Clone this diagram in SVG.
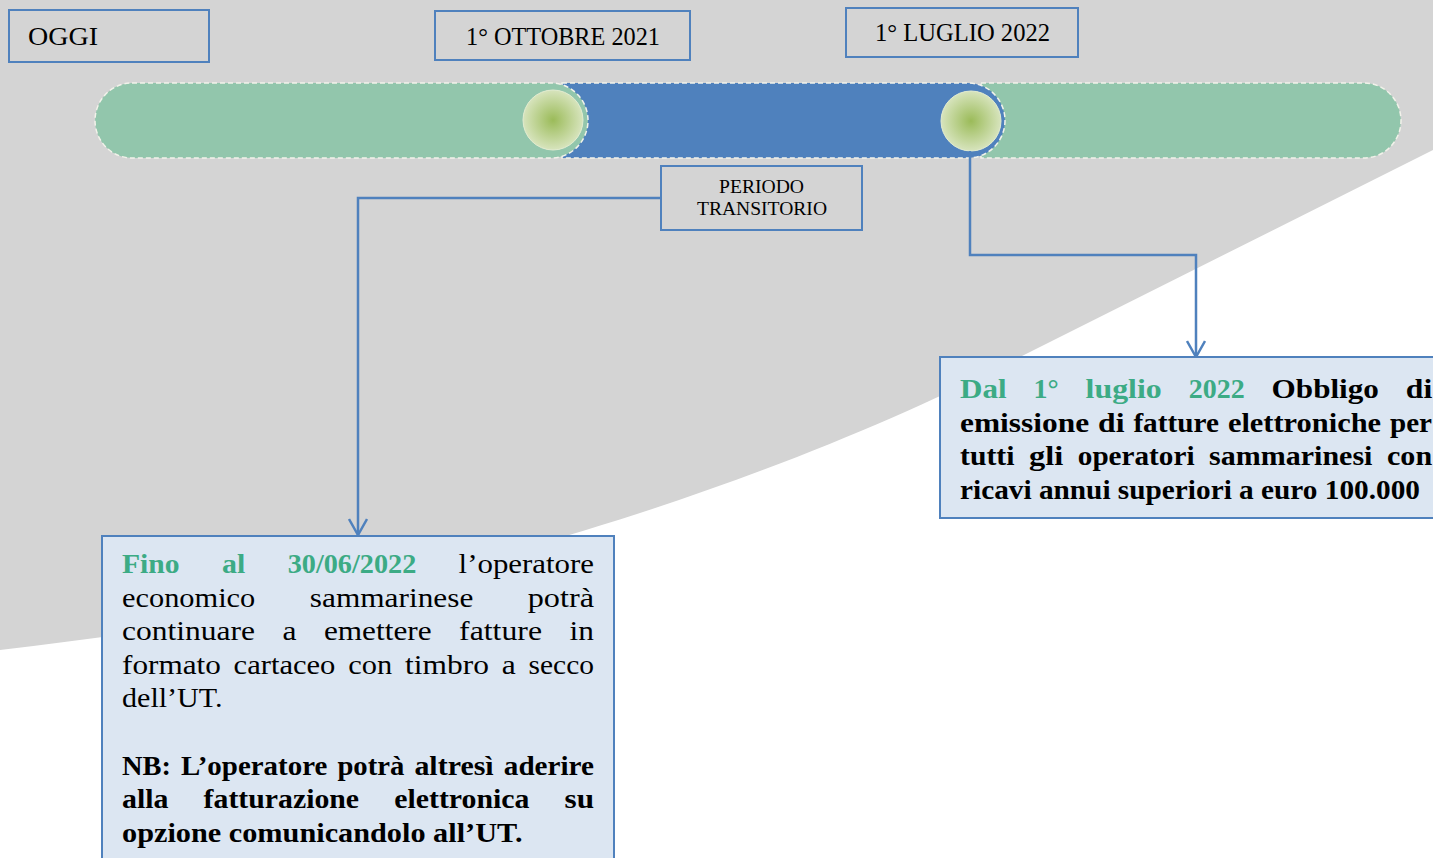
<svg xmlns="http://www.w3.org/2000/svg" width="1433" height="858" viewBox="0 0 1433 858">
<defs>
<style>
text{font-family:"Liberation Serif","Times New Roman",serif;fill:#000}
.box{fill:none;stroke:#4F81BD;stroke-width:2}
.note{fill:#DCE6F2;stroke:#4F81BD;stroke-width:2}
.bar{stroke:#F2F2EA;stroke-width:1.5;stroke-dasharray:5 3}
.g{fill:#3CAB85}
.b{font-weight:bold}
.w{font-size:28px}
.con{fill:none;stroke:#4F81BD;stroke-width:2.5}
</style>
<radialGradient id="dot" cx="0.5" cy="0.5" r="0.5">
<stop offset="0" stop-color="#9BBB59"/>
<stop offset="1" stop-color="#D7E4BD"/>
</radialGradient>
<marker id="arr" viewBox="0 0 20 20" refX="18" refY="10" markerWidth="20" markerHeight="20" markerUnits="userSpaceOnUse" orient="auto">
<path d="M2,1 L18,10 L2,19" fill="none" stroke="#4F81BD" stroke-width="2.5"/>
</marker>
</defs>

<rect x="0" y="0" width="1433" height="858" fill="#D4D4D4"/>
<path d="M1433,150 L1000,367 C800,468 450,600 0,650 L0,858 L1433,858 Z" fill="#FFFFFF"/>

<g id="timeline">
<path class="bar" d="M981,83 H1364 A37,37.5 0 0 1 1364,158 H981 Z" fill="#92C6AC"/>
<path class="bar" d="M562,83 H968 A37,37.5 0 0 1 968,158 H562 Z" fill="#4F81BD"/>
<rect class="bar" x="95" y="83" width="493" height="75" rx="37" ry="37.5" fill="#92C6AC"/>
</g>
<g id="dot1"><circle cx="553" cy="120" r="30" fill="url(#dot)" stroke="#E3ECD0" stroke-width="1"/></g>
<g id="dot2"><circle cx="971" cy="121" r="30" fill="url(#dot)" stroke="#E3ECD0" stroke-width="1"/></g>

<g id="connectors">
<polyline class="con" points="661,198 358,198 358,535" marker-end="url(#arr)"/>
<polyline class="con" points="970,151 970,255 1196,255 1196,357" marker-end="url(#arr)"/>
</g>

<g id="oggi">
<rect class="box" x="9" y="10" width="200" height="52"/>
<text x="28" y="45" font-size="25" textLength="70" lengthAdjust="spacingAndGlyphs">OGGI</text>
</g>
<g id="ottobre">
<rect class="box" x="435" y="11" width="255" height="49"/>
<text x="466" y="45" font-size="25" textLength="194" lengthAdjust="spacingAndGlyphs">1° OTTOBRE 2021</text>
</g>
<g id="luglio">
<rect class="box" x="846" y="8" width="232" height="49"/>
<text x="875" y="41" font-size="25" textLength="175" lengthAdjust="spacingAndGlyphs">1° LUGLIO 2022</text>
</g>
<g id="periodo">
<rect class="box" x="661" y="166" width="201" height="64"/>
<text x="719" y="193" font-size="18" textLength="85" lengthAdjust="spacingAndGlyphs">PERIODO</text>
<text x="697" y="215" font-size="18" textLength="130" lengthAdjust="spacingAndGlyphs">TRANSITORIO</text>
</g>

<g id="note-right">
<rect class="note" x="940" y="357" width="520" height="161"/>
<text class="w b g" x="960" y="398" textLength="46.6" lengthAdjust="spacingAndGlyphs">Dal</text>
<text class="w b g" x="1033.5" y="398" textLength="25.2" lengthAdjust="spacingAndGlyphs">1°</text>
<text class="w b g" x="1085.6" y="398" textLength="76.2" lengthAdjust="spacingAndGlyphs">luglio</text>
<text class="w b g" x="1188.7" y="398" textLength="56" lengthAdjust="spacingAndGlyphs">2022</text>
<text class="w b" x="1271.6" y="398" textLength="107.3" lengthAdjust="spacingAndGlyphs">Obbligo</text>
<text class="w b" x="1405.8" y="398" textLength="26.4" lengthAdjust="spacingAndGlyphs">di</text>
<text class="w b" x="960" y="431.5" textLength="129.1" lengthAdjust="spacingAndGlyphs">emissione</text>
<text class="w b" x="1098.1" y="431.5" textLength="26.4" lengthAdjust="spacingAndGlyphs">di</text>
<text class="w b" x="1133.4" y="431.5" textLength="85.5" lengthAdjust="spacingAndGlyphs">fatture</text>
<text class="w b" x="1227.9" y="431.5" textLength="153.2" lengthAdjust="spacingAndGlyphs">elettroniche</text>
<text class="w b" x="1390" y="431.5" textLength="42" lengthAdjust="spacingAndGlyphs">per</text>
<text class="w b" x="960" y="465" textLength="54.4" lengthAdjust="spacingAndGlyphs">tutti</text>
<text class="w b" x="1029" y="465" textLength="34.2" lengthAdjust="spacingAndGlyphs">gli</text>
<text class="w b" x="1077.8" y="465" textLength="116.7" lengthAdjust="spacingAndGlyphs">operatori</text>
<text class="w b" x="1209.1" y="465" textLength="163.3" lengthAdjust="spacingAndGlyphs">sammarinesi</text>
<text class="w b" x="1387" y="465" textLength="45.1" lengthAdjust="spacingAndGlyphs">con</text>
<text class="w b" x="960" y="498.5" textLength="460" lengthAdjust="spacingAndGlyphs">ricavi annui superiori a euro 100.000</text>
</g>

<g id="note-left">
<rect class="note" x="102" y="536" width="512" height="340"/>
<text class="w b g" x="122" y="573" textLength="57.6" lengthAdjust="spacingAndGlyphs">Fino</text>
<text class="w b g" x="222" y="573" textLength="23.3" lengthAdjust="spacingAndGlyphs">al</text>
<text class="w b g" x="287.7" y="573" textLength="128.6" lengthAdjust="spacingAndGlyphs">30/06/2022</text>
<text class="w" x="458.6" y="573" textLength="135.4" lengthAdjust="spacingAndGlyphs">l’operatore</text>
<text class="w" x="122" y="607" textLength="133.3" lengthAdjust="spacingAndGlyphs">economico</text>
<text class="w" x="309.8" y="607" textLength="163.5" lengthAdjust="spacingAndGlyphs">sammarinese</text>
<text class="w" x="527.7" y="607" textLength="66.3" lengthAdjust="spacingAndGlyphs">potrà</text>
<text class="w" x="122" y="640" textLength="132.9" lengthAdjust="spacingAndGlyphs">continuare</text>
<text class="w" x="282.4" y="640" textLength="14" lengthAdjust="spacingAndGlyphs">a</text>
<text class="w" x="323.9" y="640" textLength="107.7" lengthAdjust="spacingAndGlyphs">emettere</text>
<text class="w" x="459.1" y="640" textLength="82.9" lengthAdjust="spacingAndGlyphs">fatture</text>
<text class="w" x="569.5" y="640" textLength="24.4" lengthAdjust="spacingAndGlyphs">in</text>
<text class="w" x="122" y="674" textLength="98.8" lengthAdjust="spacingAndGlyphs">formato</text>
<text class="w" x="233.6" y="674" textLength="101.8" lengthAdjust="spacingAndGlyphs">cartaceo</text>
<text class="w" x="348.3" y="674" textLength="44" lengthAdjust="spacingAndGlyphs">con</text>
<text class="w" x="405.1" y="674" textLength="83.8" lengthAdjust="spacingAndGlyphs">timbro</text>
<text class="w" x="501.8" y="674" textLength="14" lengthAdjust="spacingAndGlyphs">a</text>
<text class="w" x="528.6" y="674" textLength="65.4" lengthAdjust="spacingAndGlyphs">secco</text>
<text class="w" x="122" y="707" textLength="100.5" lengthAdjust="spacingAndGlyphs">dell’UT.</text>
<text class="w b" x="122" y="775" textLength="49" lengthAdjust="spacingAndGlyphs">NB:</text>
<text class="w b" x="181.1" y="775" textLength="146.2" lengthAdjust="spacingAndGlyphs">L’operatore</text>
<text class="w b" x="337.4" y="775" textLength="66.9" lengthAdjust="spacingAndGlyphs">potrà</text>
<text class="w b" x="414.4" y="775" textLength="79.3" lengthAdjust="spacingAndGlyphs">altresì</text>
<text class="w b" x="503.8" y="775" textLength="90.2" lengthAdjust="spacingAndGlyphs">aderire</text>
<text class="w b" x="122" y="808" textLength="46.6" lengthAdjust="spacingAndGlyphs">alla</text>
<text class="w b" x="203.6" y="808" textLength="155.5" lengthAdjust="spacingAndGlyphs">fatturazione</text>
<text class="w b" x="394.2" y="808" textLength="135.3" lengthAdjust="spacingAndGlyphs">elettronica</text>
<text class="w b" x="564.5" y="808" textLength="29.5" lengthAdjust="spacingAndGlyphs">su</text>
<text class="w b" x="122" y="842" textLength="400.5" lengthAdjust="spacingAndGlyphs">opzione comunicandolo all’UT.</text>
</g>
</svg>
